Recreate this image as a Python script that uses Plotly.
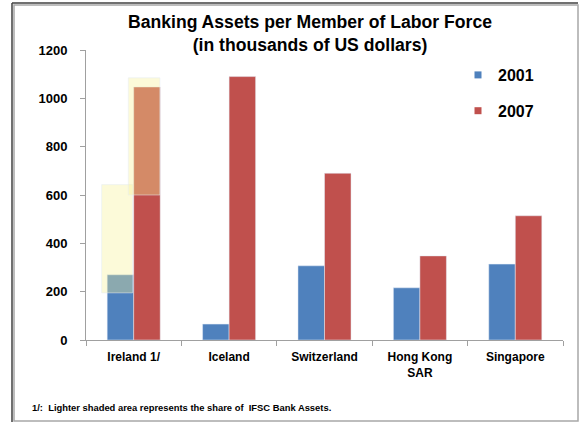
import plotly.graph_objects as go

# ---- data ----
categories = ["Ireland 1/", "Iceland", "Switzerland", "Hong Kong<br>SAR", "Singapore"]
assets_2001 = [270, 66, 307, 216, 314]
assets_2007 = [1047, 1090, 690, 348, 514]

# Ireland: lighter shaded area (share of IFSC bank assets)
ifsc_category = ["Ireland 1/"]
ifsc_2001_base = [195]
ifsc_2001_top = [643]
ifsc_2007_base = [600]
ifsc_2007_top = [1085]

y_ticks = [0, 200, 400, 600, 800, 1000, 1200]

BLUE = "#4F81BD"
RED = "#C0504D"
YELLOW = "rgba(248,242,150,0.36)"
FONT = "Liberation Sans"

W, H = 586, 434
L, R, T, B = 86, 23, 50, 94
pw, ph = W - L - R, H - T - B

def px_x(p):
    return (p - L) / pw

def px_y(p):
    return (H - B - p) / ph

bw = 0.278

fig = go.Figure()
fig.add_trace(go.Bar(x=categories, y=assets_2001, name="2001", marker_color=BLUE,
                     width=bw, offset=-bw, showlegend=False))
fig.add_trace(go.Bar(x=categories, y=assets_2007, name="2007", marker_color=RED,
                     width=bw, offset=0, showlegend=False))
fig.add_trace(go.Bar(x=ifsc_category, y=[t - b for t, b in zip(ifsc_2001_top, ifsc_2001_base)],
                     base=ifsc_2001_base, marker_color=YELLOW, width=0.325, offset=-0.336,
                     showlegend=False, hoverinfo="skip"))
fig.add_trace(go.Bar(x=ifsc_category, y=[t - b for t, b in zip(ifsc_2007_top, ifsc_2007_base)],
                     base=ifsc_2007_base, marker_color=YELLOW, width=0.332, offset=-0.057,
                     showlegend=False, hoverinfo="skip"))
# legend entries (small square keys)
for name, col, grp in [("2001", BLUE, "a"), ("2007", RED, "b")]:
    fig.add_trace(go.Scatter(x=[None], y=[None], mode="markers", name=name,
                             marker=dict(symbol="square", size=7, color=col),
                             legendgroup=grp, showlegend=True))

fig.update_layout(
    width=W, height=H,
    margin=dict(l=L, r=R, t=T, b=B),
    paper_bgcolor="white", plot_bgcolor="white",
    barmode="overlay",
    font=dict(family=FONT, color="black", size=12),
    title=dict(text="<b>Banking Assets per Member of Labor Force<br>(in thousands of US dollars)</b>",
               x=px_x(310), xref="paper", xanchor="center",
               y=1 - 28 / H, yref="container", yanchor="middle",
               font=dict(family=FONT, size=17.6, color="black")),
    showlegend=True,
    legend=dict(x=px_x(458), y=px_y(58), xanchor="left", yanchor="top",
                traceorder="grouped", tracegroupgap=12,
                font=dict(family=FONT, size=16, color="black", weight="bold"),
                bgcolor="rgba(0,0,0,0)", itemwidth=30),
    xaxis=dict(type="category", categoryorder="array", categoryarray=categories,
               showline=True, linecolor="#A0A0A0", linewidth=1,
               ticks="outside", tickson="boundaries", ticklen=5, tickcolor="#A0A0A0",
               showgrid=False, zeroline=False,
               tickfont=dict(family=FONT, size=12, color="black", weight="bold"),
               ticklabelstandoff=6),
    yaxis=dict(range=[0, 1200], tickvals=y_ticks, ticktext=[str(v) for v in y_ticks],
               showline=True, linecolor="#A0A0A0", linewidth=1,
               ticks="outside", ticklen=5, tickcolor="#A0A0A0",
               showgrid=False, zeroline=False,
               tickfont=dict(family=FONT, size=13, color="black", weight="bold"),
               ticklabelstandoff=10),
)

# frame
fig.add_shape(type="rect", xref="paper", yref="paper",
              x0=px_x(14), x1=px_x(578), y0=px_y(421), y1=px_y(5),
              line=dict(color="#A8A8A8", width=1.5), fillcolor="rgba(0,0,0,0)", layer="below")
fig.add_shape(type="line", xref="paper", yref="paper",
              x0=px_x(12), x1=px_x(12), y0=px_y(422), y1=px_y(3),
              line=dict(color="#404040", width=1.5))
fig.add_shape(type="line", xref="paper", yref="paper",
              x0=px_x(12), x1=px_x(578), y0=px_y(3), y1=px_y(3),
              line=dict(color="#404040", width=1.5))

fig.add_annotation(text="<b>1/:  Lighter shaded area represents the share of  IFSC Bank Assets.</b>",
                   xref="paper", yref="paper", x=px_x(30), y=px_y(407),
                   xanchor="left", yanchor="middle", showarrow=False,
                   font=dict(family=FONT, size=9.4, color="black"))

fig.write_html("out.html", config={"displayModeBar": False},
               post_script="document.body.style.margin='0px';")
